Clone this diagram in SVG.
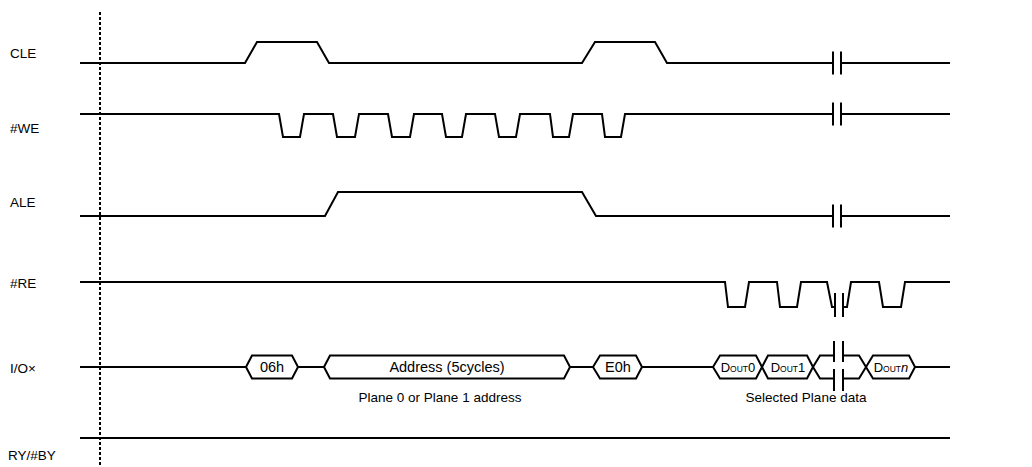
<svg xmlns="http://www.w3.org/2000/svg" width="1032" height="467" viewBox="0 0 1032 467">
<style>
.sig{fill:none;stroke:#000;stroke-width:2;stroke-linejoin:miter}
.brk{fill:none;stroke:#000;stroke-width:2}
.lbl{font-family:"Liberation Sans",Arial,sans-serif;font-size:13.5px;fill:#000}
.bus{font-family:"Liberation Sans",Arial,sans-serif;font-size:14.5px;fill:#000;text-anchor:middle}
.dout{font-family:"Liberation Sans",Arial,sans-serif;font-size:13px;fill:#000;text-anchor:middle}
.sub{font-size:8.5px}
.note{font-family:"Liberation Sans",Arial,sans-serif;font-size:13.5px;fill:#000;text-anchor:middle}
</style>
<rect width="1032" height="467" fill="#fff"/>
<g id="labels">
<text class="lbl" x="10" y="58">CLE</text>
<text class="lbl" x="10" y="133">#WE</text>
<text class="lbl" x="10" y="207">ALE</text>
<text class="lbl" x="10" y="288">#RE</text>
<text class="lbl" x="10" y="373">I/O×</text>
<text class="lbl" x="8" y="460">RY/#BY</text>
</g>
<g id="marker-line">
<line x1="100" y1="12" x2="100" y2="467" stroke="#000" stroke-width="2" stroke-dasharray="3,2"/>
</g>
<g id="connectors">
<g id="CLE">
<polyline class="sig" points="80,63 245,63 257,42 317,42 329,63 582,63 595,42 655,42 667,63 833,63"/>
<line class="sig" x1="841" y1="63" x2="950" y2="63"/>
<line class="brk" x1="833" y1="51.5" x2="833" y2="74.5"/>
<line class="brk" x1="841" y1="51.5" x2="841" y2="74.5"/>
</g>
<g id="WE">
<polyline class="sig" points="80,114 279,114 283,137 300,137 304,114 333,114 337,137 355,137 359,114 388,114 392,137 410,137 414,114 442,114 446,137 462,137 466,114 495,114 499,137 516,137 520,114 550,114 553,137 569,137 573,114 602,114 605,137 621,137 625,114 833,114"/>
<line class="sig" x1="841" y1="114" x2="950" y2="114"/>
<line class="brk" x1="833" y1="102.5" x2="833" y2="125.5"/>
<line class="brk" x1="841" y1="102.5" x2="841" y2="125.5"/>
</g>
<g id="ALE">
<polyline class="sig" points="80,216 325,216 338,192 582,192 596,216 833,216"/>
<line class="sig" x1="841" y1="216" x2="950" y2="216"/>
<line class="brk" x1="833" y1="204.5" x2="833" y2="227.5"/>
<line class="brk" x1="841" y1="204.5" x2="841" y2="227.5"/>
</g>
<g id="RE">
<polyline class="sig" points="80,282 725,282 728,307 745,307 749,282 777,282 780,307 797,307 801,282 827,282 832,307 835,307"/>
<polyline class="sig" points="843,307 847,307 851,282 879,282 883,307 901,307 905,282 950,282"/>
<line class="brk" x1="835" y1="293" x2="835" y2="317"/>
<line class="brk" x1="843" y1="293" x2="843" y2="317"/>
</g>
<g id="IO">
<line class="sig" x1="80" y1="367" x2="246" y2="367"/>
<line class="sig" x1="298" y1="367" x2="324" y2="367"/>
<line class="sig" x1="570" y1="367" x2="593" y2="367"/>
<line class="sig" x1="642" y1="367" x2="713" y2="367"/>
<line class="sig" x1="915" y1="367" x2="950" y2="367"/>
<polyline class="sig" points="834,355.5 820,355.5 813,367 820,378.5 834,378.5"/>
<polyline class="sig" points="843,355.5 859,355.5 866,367 859,378.5 843,378.5"/>
<line class="brk" x1="834" y1="341" x2="834" y2="362"/>
<line class="brk" x1="843" y1="341" x2="843" y2="362"/>
<line class="brk" x1="834" y1="369" x2="834" y2="391"/>
<line class="brk" x1="843" y1="369" x2="843" y2="391"/>
</g>
<g id="RYBY">
<line class="sig" x1="80" y1="438" x2="950" y2="438"/>
</g>
</g>
<g id="n-06h">
<polygon class="sig" points="246,367 252,355.5 292,355.5 298,367 292,378.5 252,378.5"/>
<text class="bus" x="272" y="372">06h</text>
</g>
<g id="n-address">
<polygon class="sig" points="324,367 330,355.5 564,355.5 570,367 564,378.5 330,378.5"/>
<text class="bus" x="447" y="372">Address (5cycles)</text>
</g>
<g id="n-e0h">
<polygon class="sig" points="593,367 600,355.5 636,355.5 642,367 636,378.5 600,378.5"/>
<text class="bus" x="618" y="372">E0h</text>
</g>
<g id="n-dout0">
<polygon class="sig" points="713,367 720,355.5 756,355.5 762,367 756,378.5 720,378.5"/>
<text class="dout" x="738" y="372">D<tspan class="sub">OUT</tspan>0</text>
</g>
<g id="n-dout1">
<polygon class="sig" points="762,367 768,355.5 807,355.5 813,367 807,378.5 768,378.5"/>
<text class="dout" x="788" y="372">D<tspan class="sub">OUT</tspan>1</text>
</g>
<g id="n-doutn">
<polygon class="sig" points="866,367 873,355.5 909,355.5 915,367 909,378.5 873,378.5"/>
<text class="dout" x="891" y="372">D<tspan class="sub">OUT</tspan><tspan font-style="italic">n</tspan></text>
</g>
<g id="notes">
<text class="note" x="440" y="402">Plane 0 or Plane 1 address</text>
<text class="note" x="806" y="402">Selected Plane data</text>
</g>
</svg>
